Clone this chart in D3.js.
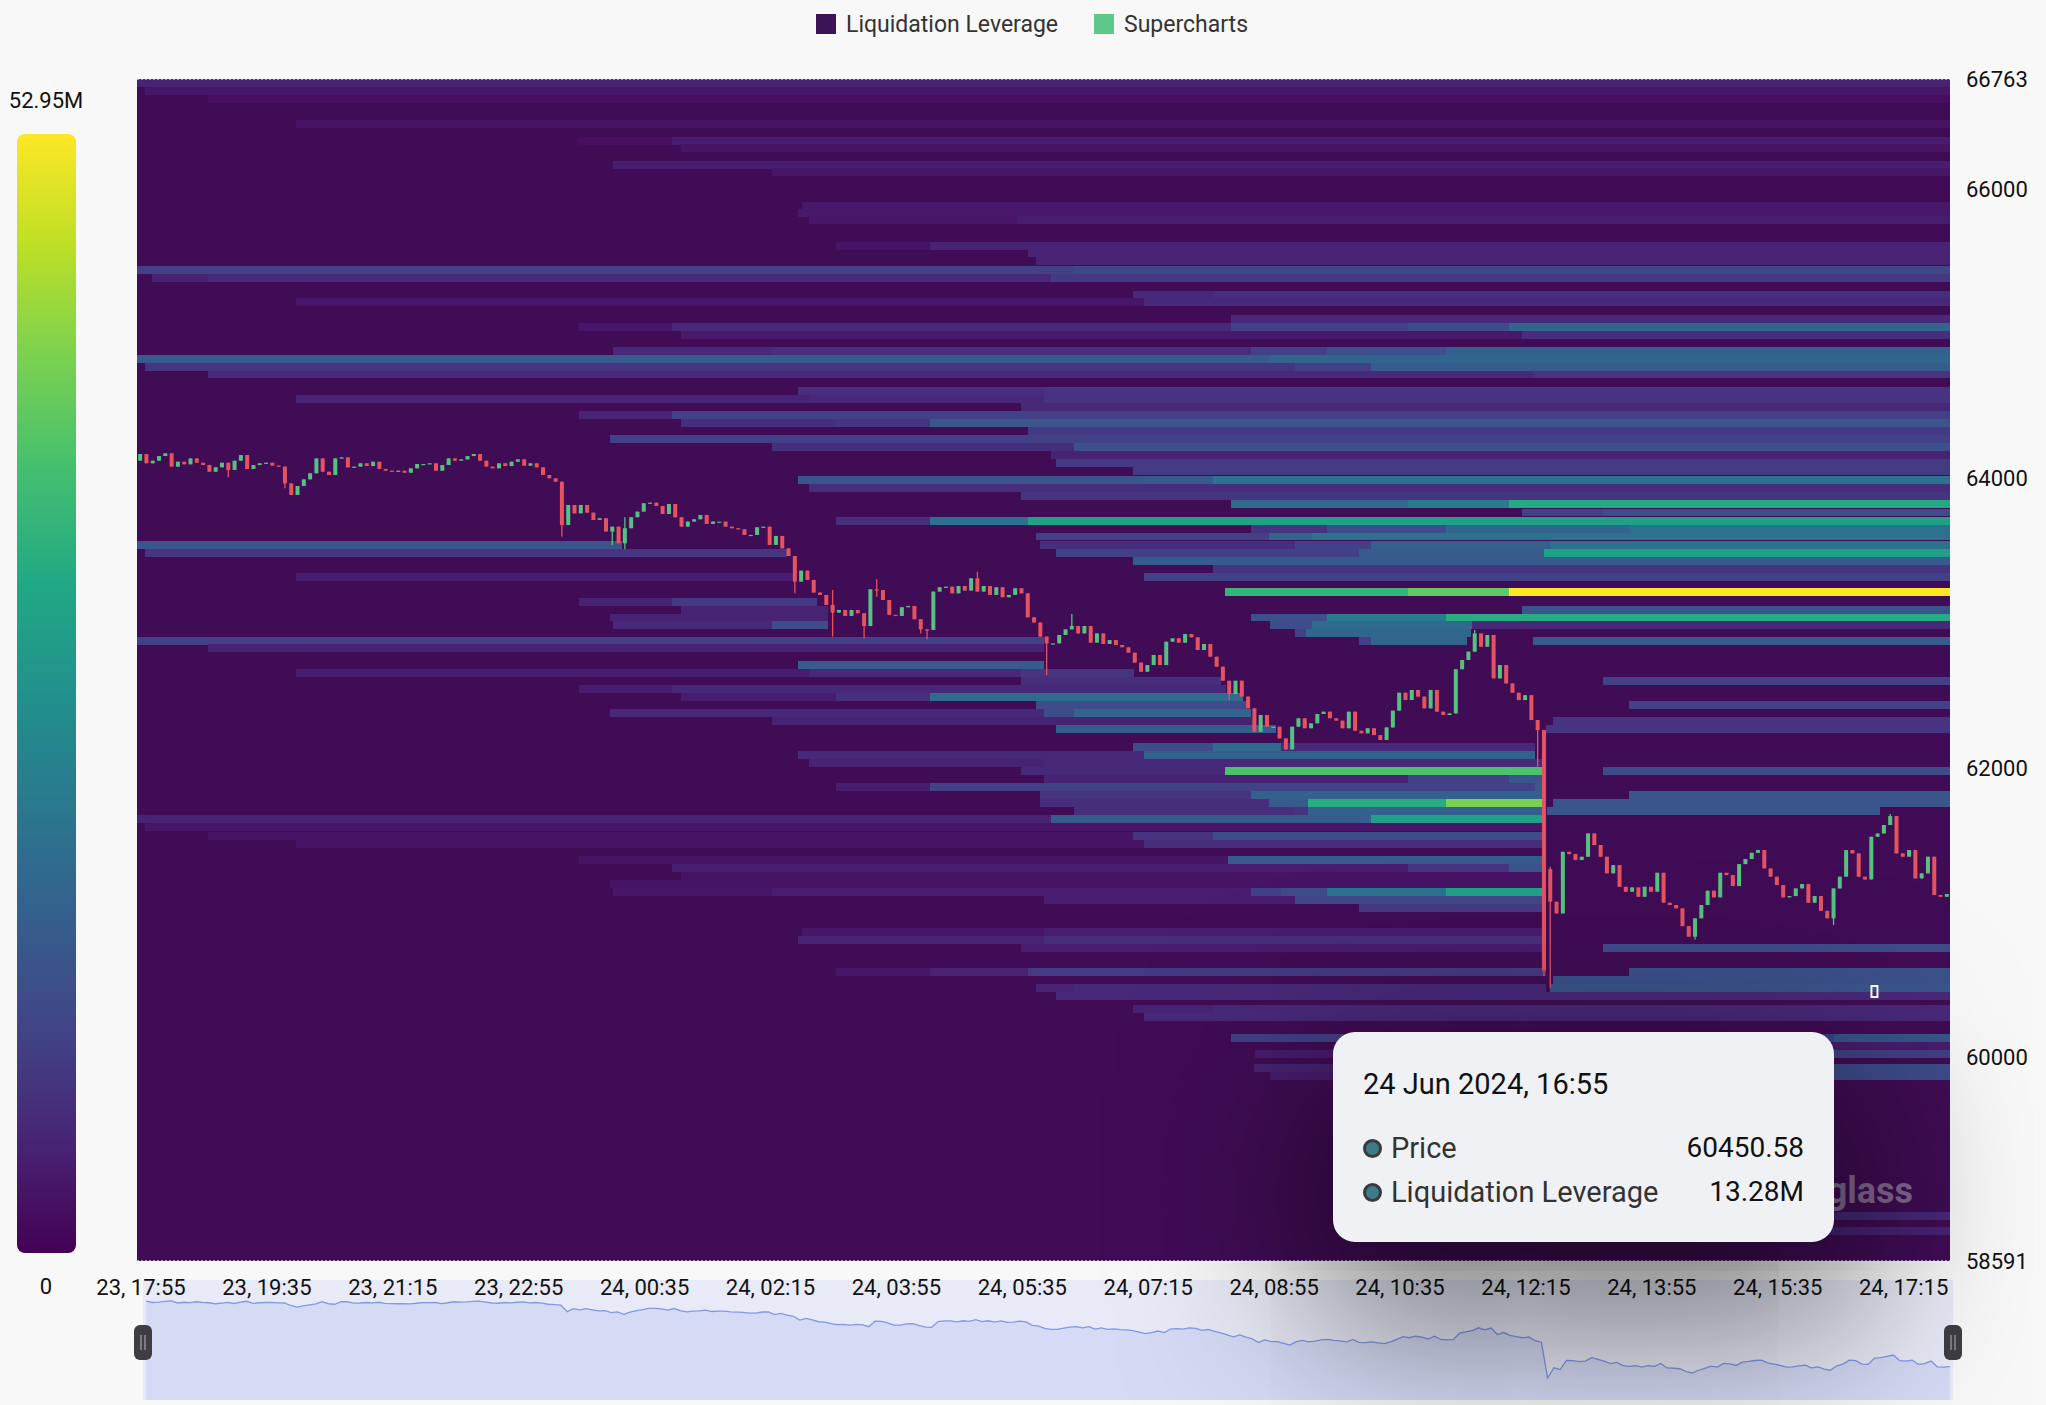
<!DOCTYPE html>
<html>
<head>
<meta charset="utf-8">
<script src="https://cdn.jsdelivr.net/npm/d3@7"></script>
<style>
  body { margin: 0; background: #f8f8f8; font-family: Roboto, "Noto Sans", sans-serif; }
  #wrap { position: relative; width: 2046px; height: 1405px; overflow: hidden; }
  #tip {
    position: absolute; background: #f0f1f5; border-radius: 22px;
    box-shadow: 0 60px 170px 30px rgba(0, 0, 0, 0.5);
    color: #111;
  }
  #tip .row { position: absolute; left: 30px; right: 30px; height: 34px; line-height: 34px; }
  #tip .dot { position: absolute; left: 0; top: 8px; width: 13px; height: 13px; border-radius: 50%;
    background: #3f7a8c; border: 3px solid #3a3a3a; }
  #tip .lab { position: absolute; left: 28px; color: #333; font-size: 29px; }
  #tip .val { position: absolute; right: 0; font-size: 28px; color: #111; }
</style>
</head>
<body>
<div id="wrap">
  <svg id="chart" width="2046" height="1405"></svg>
  <div id="tip"></div>
</div>
<script>
// time range: 23 Jun 2024 17:55 -> 24 Jun 2024 17:55, 5 minute candles
var startTime = new Date(2024, 5, 23, 17, 55);
var colorMax = 52.95; // M

// candle closes, one per 5 minutes (first open below)
var firstOpen = 64124;
var closes = [
  64170, 64106, 64124, 64156, 64175, 64083, 64117, 64099, 64140, 64110,
  64094, 64048, 64078, 64110, 64060, 64124, 64163, 64067, 64094, 64106,
  64110, 64090, 64083, 63967, 63887, 63949, 63995, 64037, 64140, 64048,
  64025, 64140, 64147, 64078, 64083, 64106, 64087, 64117, 64067, 64055,
  64048, 64055, 64041, 64071, 64101, 64101, 64106, 64055, 64094, 64140,
  64124, 64133, 64156, 64170, 64124, 64083, 64071, 64106, 64087, 64117,
  64133, 64090, 64106, 64078, 64025, 64002, 63979, 63679, 63818, 63760,
  63818, 63765,
  63714, 63726, 63634, 63668, 63553, 63657, 63733, 63772, 63830, 63834,
  63811, 63756, 63825, 63733, 63668, 63703, 63719, 63749, 63687, 63703,
  63703, 63668, 63657, 63650, 63611, 63611, 63664, 63668, 63542, 63604,
  63518, 63465, 63288, 63364, 63300, 63212, 63196, 63127, 63074, 63092,
  63051, 63092, 63069, 62981, 63235, 63230, 63161, 63058, 63051, 63111,
  63120, 63028, 62958, 62954, 63219, 63249, 63253, 63207, 63258, 63226,
  63311, 63219, 63258, 63196, 63249, 63180, 63196, 63242, 63207, 63041,
  63005, 62908,
  62861, 62861, 62919, 62958, 62981, 62930, 62981, 62866, 62930, 62857,
  62884, 62850, 62834, 62797, 62728, 62665, 62711, 62781, 62711, 62873,
  62896, 62866, 62926, 62903, 62815, 62857, 62769, 62700, 62603, 62511,
  62603, 62493, 62412, 62250, 62366, 62285, 62285, 62204, 62128, 62285,
  62343, 62274, 62308, 62373, 62389, 62343, 62327, 62274, 62389, 62257,
  62239, 62274, 62227, 62193, 62280, 62396, 62520, 62470, 62539, 62493,
  62412, 62539, 62389, 62366, 62377, 62682, 62746, 62804, 62930, 62838,
  62919, 62619,
  62711, 62584, 62520, 62469, 62503, 62331, 62262, 60600, 61075, 60994,
  61420, 61404, 61363, 61386, 61547, 61467, 61386, 61271, 61328, 61178,
  61144, 61174, 61109, 61178, 61144, 61275, 61068, 61052, 61029, 60906,
  60833, 60960, 61052, 61151, 61105, 61275, 61259, 61183, 61335, 61370,
  61413, 61432, 61305, 61248, 61190, 61105, 61114, 61167, 61197, 61068,
  61114, 61012, 60960, 61167, 61248, 61432, 61409, 61248, 61229, 61524,
  61547, 61605, 61667, 61409, 61386, 61432, 61236, 61271, 61386, 61121,
  61109, 61128
];
// [candle index, high, low] where the wick sticks out of the body
var candleWicks = [
  [14, null, 64009], [23, null, 63933], [67, null, 63599], [75, null, 63542],
  [77, 63733, 63512], [104, null, 63207], [110, 63230, 62908], [115, null, 62896],
  [117, 63304, 63184], [124, null, 62930], [125, null, 62889], [133, 63357, null],
  [144, null, 62642], [148, 63064, null], [173, null, 62470], [177, null, 62250],
  [182, null, 62128], [212, 62953, null], [222, null, 62010], [223, null, 60560],
  [224, 61316, 60480], [226, null, 61030], [247, null, 60814], [269, null, 60914],
  [278, 61681, null]
];
// [candle index, open] where the open gaps from the previous close
var openFix = [[224, 61300]];

// liquidation levels: [price, [[hours from start, value in M], ...]], value 0 = cleared
var liqBands = [
  [66735, [[0, 5]]],
  [66680, [[0.1, 3]]],
  [66625, [[0.94, 2]]],
  [66450, [[2.1, 2.5]]],
  [66337, [[5.85, 2], [7.08, 4]]],
  [66285, [[7.2, 2.5]]],
  [66170, [[6.3, 4]]],
  [66120, [[8.4, 3]]],
  [65885, [[8.8, 3.5]]],
  [65835, [[8.75, 3.5]]],
  [65785, [[8.9, 3], [11.65, 4]]],
  [65610, [[9.25, 2.5], [10.5, 5]]],
  [65558, [[11.8, 5]]],
  [65503, [[11.9, 5]]],
  [65445, [[0, 10], [12.4, 11]]],
  [65390, [[0.2, 5], [0.94, 6], [12.1, 9]]],
  [65272, [[13.18, 6], [14.25, 7]]],
  [65218, [[2.1, 3], [13.33, 6]]],
  [65105, [[14.48, 6]]],
  [65050, [[5.85, 3], [7.08, 6], [14.48, 10], [16.83, 12], [18.16, 17]]],
  [64995, [[7.2, 3.5], [18.33, 7]]],
  [64882, [[6.3, 6], [8.4, 7], [14.75, 10], [15.75, 13], [17.33, 16]]],
  [64827, [[0, 15], [14.98, 17]]],
  [64772, [[0.1, 8], [15.33, 10], [16.33, 15]]],
  [64720, [[0.94, 6], [18.48, 8]]],
  [64603, [[8.75, 7], [12, 8]]],
  [64550, [[2.1, 5], [8.9, 6], [12, 8]]],
  [64495, [[11.7, 6]]],
  [64438, [[5.85, 5], [7.08, 10]]],
  [64385, [[7.2, 7], [9.25, 8], [10.5, 14]]],
  [64330, [[11.8, 9]]],
  [64272, [[6.26, 10]]],
  [64218, [[8.4, 7], [12.41, 13]]],
  [64163, [[12.1, 5]]],
  [64108, [[12.17, 9]]],
  [64050, [[13.18, 9]]],
  [63990, [[8.75, 14], [13.33, 15], [14.25, 20]]],
  [63937, [[8.9, 7]]],
  [63882, [[11.7, 8]]],
  [63822, [[14.48, 18], [16.83, 22], [18.16, 32]]],
  [63766, [[18.33, 10], [19.4, 12]]],
  [63709, [[9.25, 7], [10.5, 20], [11.8, 30]]],
  [63655, [[14.75, 8], [15.75, 12], [17.33, 17], [19.75, 20]]],
  [63600, [[11.9, 10], [14.98, 17], [15.55, 20]]],
  [63543, [[0, 14], [6.42, 0], [11.95, 7], [15.33, 10], [16.33, 16], [18.7, 20]]],
  [63488, [[0.1, 8], [8.6, 0], [12.17, 10], [16.17, 15], [18.63, 30]]],
  [63432, [[13.18, 15]]],
  [63377, [[14.25, 8]]],
  [63322, [[2.1, 4], [8.68, 0], [13.33, 10]]],
  [63215, [[14.4, 35], [16.83, 40], [18.16, 53]]],
  [63145, [[5.85, 5], [7.08, 9], [9.0, 0]]],
  [63090, [[7.2, 5], [9.15, 0], [18.33, 14]]],
  [63040, [[6.26, 5], [9.15, 0], [14.75, 13], [15.75, 22], [17.33, 33]]],
  [62985, [[6.3, 6], [8.4, 12], [9.15, 0], [15.0, 12], [15.55, 18], [17.67, 6]]],
  [62930, [[15.33, 10], [15.48, 17], [17.66, 0]]],
  [62880, [[0, 10], [12.0, 0], [16.17, 10], [16.33, 17], [17.6, 0], [18.48, 15]]],
  [62828, [[0.94, 5], [12.0, 0]]],
  [62710, [[8.75, 15], [12.0, 0]]],
  [62655, [[2.1, 4], [8.9, 6], [11.7, 8], [13.2, 0]]],
  [62600, [[11.7, 7], [14.35, 0], [19.4, 10]]],
  [62545, [[5.85, 4], [7.08, 6], [14.42, 0]]],
  [62490, [[7.2, 4], [9.25, 7], [10.5, 18], [14.64, 0]]],
  [62435, [[11.9, 12], [14.7, 0], [19.75, 10]]],
  [62380, [[6.26, 6], [12.0, 12], [12.4, 17], [14.75, 0]]],
  [62325, [[8.4, 5], [14.8, 0], [18.75, 8]]],
  [62270, [[12.17, 15], [15.08, 0], [18.65, 8]]],
  [62145, [[13.18, 12], [14.25, 18], [15.15, 6], [18.5, 0]]],
  [62090, [[8.75, 6], [13.33, 16], [18.5, 0]]],
  [62035, [[8.9, 5], [12, 6], [18.6, 0]]],
  [61980, [[11.7, 6], [14.4, 38], [18.6, 0], [19.4, 12]]],
  [61925, [[12, 5], [16.83, 10], [18.16, 14], [18.6, 0]]],
  [61865, [[9.25, 4], [10.5, 10], [18.5, 15], [18.6, 0]]],
  [61810, [[11.95, 8], [14.75, 16], [18.6, 0], [19.75, 14]]],
  [61755, [[11.95, 7], [14.98, 15], [15.5, 33], [17.33, 42], [18.6, 0], [18.75, 14]]],
  [61700, [[12.4, 7], [15.33, 8], [15.5, 16], [18.6, 0], [18.66, 14], [23.07, 0]]],
  [61645, [[0, 5], [12.1, 15], [16.2, 16], [16.33, 30], [18.6, 0]]],
  [61590, [[0.1, 3], [18.6, 0]]],
  [61532, [[0.94, 2.5], [13.18, 8], [14.24, 12], [18.6, 0]]],
  [61477, [[2.1, 2.5], [13.33, 7], [18.6, 0]]],
  [61365, [[5.85, 2.5], [14.44, 15], [18.6, 0]]],
  [61305, [[7.08, 4], [16.83, 8], [18.16, 14], [18.6, 0]]],
  [61250, [[7.2, 2.5], [18.6, 0]]],
  [61195, [[6.26, 2.5], [18.6, 0]]],
  [61140, [[6.3, 3], [8.4, 4], [14.75, 10], [15.15, 12], [15.75, 20], [17.33, 30], [18.6, 0]]],
  [61085, [[12, 4], [15.33, 11], [18.6, 0]]],
  [61030, [[16.17, 9], [18.6, 0]]],
  [60865, [[8.8, 3], [12, 4], [18.6, 0]]],
  [60810, [[8.75, 5], [12, 7], [18.6, 0]]],
  [60755, [[11.7, 4], [18.6, 0], [19.4, 12]]],
  [60590, [[9.25, 3], [10.5, 5], [11.8, 9], [18.65, 0], [19.75, 13]]],
  [60535, [[18.75, 13]]],
  [60480, [[11.9, 5], [12.4, 6], [18.65, 0], [18.7, 14]]],
  [60425, [[12.17, 6]]],
  [60330, [[13.18, 5], [14.25, 6]]],
  [60275, [[13.33, 6]]],
  [60135, [[14.48, 10], [22.46, 14]]],
  [60080, [[16, 4]]],
  [60025, [[14.8, 4], [19.5, 10]]],
  [59925, [[14.78, 5], [19.5, 12]]],
  [59870, [[15.0, 4], [19.5, 12]]],
  [58900, [[19, 6]]],
  [58800, [[18.6, 5]]]
];
var binSize = 55;

var priceTicks = [66763, 66000, 64000, 62000, 60000, 58591];
var timeTickStepMin = 100;
var legendItems = [
  { name: "Liquidation Leverage", color: "#3b1458" },
  { name: "Supercharts", color: "#5cc98a" }
];
var tooltipPoint = { time: new Date(2024, 5, 24, 16, 55), price: 60450.58, value: 13.28 };

// ---------- layout ----------
var plot = { left: 137, right: 1950, top: 79, bottom: 1261 };
var endTime = new Date(startTime.getTime() + 24 * 3600e3);
var hrs = function (h) { return new Date(startTime.getTime() + h * 3600e3); };

var xScale = d3.scaleTime().domain([startTime, endTime]).range([plot.left, plot.right]);
var yScale = d3.scaleLinear().domain([58591, 66763]).range([plot.bottom, plot.top]);
var color = d3.scaleSequential(d3.interpolateViridis).domain([0, colorMax]);

var svg = d3.select("#chart");
var defs = svg.append("defs");
defs.append("clipPath").attr("id", "clip")
  .append("rect")
  .attr("x", plot.left).attr("y", plot.top)
  .attr("width", plot.right - plot.left).attr("height", plot.bottom - plot.top);

// legend
var legend = svg.append("g").attr("font-size", 23).attr("fill", "#333");
var lx = [816, 1094];
legendItems.forEach(function (d, i) {
  legend.append("rect").attr("x", lx[i]).attr("y", 14).attr("width", 20).attr("height", 20).attr("fill", d.color);
  legend.append("text").attr("x", lx[i] + 30).attr("y", 24).attr("dy", "0.35em").text(d.name);
});

// heatmap
var heat = svg.append("g").attr("clip-path", "url(#clip)");
heat.append("rect")
  .attr("x", plot.left).attr("y", plot.top)
  .attr("width", plot.right - plot.left).attr("height", plot.bottom - plot.top)
  .attr("fill", "#400c55");

var cells = [];
liqBands.forEach(function (b) {
  var segs = b[1];
  segs.forEach(function (s, j) {
    if (s[1] <= 0) return;
    var t1 = j + 1 < segs.length ? segs[j + 1][0] : 24;
    cells.push({ price: b[0], t0: s[0], t1: t1, v: s[1] });
  });
});

heat.selectAll("rect.cell")
  .data(cells)
  .enter()
  .append("rect")
  .attr("class", "cell")
  .attr("x", function (d) { return xScale(hrs(d.t0)); })
  .attr("width", function (d) { return xScale(hrs(d.t1)) - xScale(hrs(d.t0)); })
  .attr("y", function (d) { return yScale(d.price + binSize / 2); })
  .attr("height", function (d) { return yScale(d.price - binSize / 2) - yScale(d.price + binSize / 2); })
  .attr("fill", function (d) { return color(d.v); })
  .attr("shape-rendering", "crispEdges");

// candles
var wickMap = {};
candleWicks.forEach(function (w) { wickMap[w[0]] = w; });
var openMap = {};
openFix.forEach(function (o) { openMap[o[0]] = o[1]; });

var candles = closes.map(function (c, i) {
  var o = openMap[i] !== undefined ? openMap[i] : (i === 0 ? firstOpen : closes[i - 1]);
  var hi = Math.max(o, c), lo = Math.min(o, c);
  var w = wickMap[i];
  if (w && w[1] !== null) hi = Math.max(hi, w[1]);
  if (w && w[2] !== null) lo = Math.min(lo, w[2]);
  return { date: new Date(startTime.getTime() + (i * 5 + 2.5) * 60e3), open: o, close: c, high: hi, low: lo };
});

var candleW = 4;
var cg = heat.append("g");
var cSel = cg.selectAll("g.candle").data(candles).enter().append("g").attr("class", "candle");
cSel.append("line")
  .attr("x1", function (d) { return xScale(d.date); })
  .attr("x2", function (d) { return xScale(d.date); })
  .attr("y1", function (d) { return yScale(d.high); })
  .attr("y2", function (d) { return yScale(d.low); })
  .attr("stroke", function (d) { return d.close >= d.open ? "#55c27f" : "#e5535f"; })
  .attr("stroke-width", 1.3);
cSel.append("rect")
  .attr("x", function (d) { return xScale(d.date) - candleW / 2; })
  .attr("width", candleW)
  .attr("y", function (d) { return yScale(Math.max(d.open, d.close)); })
  .attr("height", function (d) { return Math.max(1.2, Math.abs(yScale(d.open) - yScale(d.close))); })
  .attr("fill", function (d) { return d.close >= d.open ? "#55c27f" : "#e5535f"; });

// hovered cell marker
heat.append("rect")
  .attr("x", xScale(tooltipPoint.time) - 3)
  .attr("y", yScale(tooltipPoint.price) - 6)
  .attr("width", 6).attr("height", 11)
  .attr("fill", "none").attr("stroke", "#fff").attr("stroke-width", 2);

// watermark, only its tail shows beside the tooltip
svg.append("text")
  .attr("x", 1913).attr("y", 1190).attr("dy", "0.35em")
  .attr("text-anchor", "end")
  .attr("font-size", 36).attr("font-weight", 700)
  .attr("fill", "rgba(205,200,215,0.5)")
  .text("glass");

// top / bottom edges
svg.append("line").attr("x1", plot.left).attr("x2", plot.right).attr("y1", plot.top + 0.5).attr("y2", plot.top + 0.5)
  .attr("stroke", "#a99cc6").attr("stroke-dasharray", "2,2");
svg.append("line").attr("x1", plot.left).attr("x2", plot.right).attr("y1", plot.bottom - 0.5).attr("y2", plot.bottom - 0.5)
  .attr("stroke", "#a99cc6").attr("stroke-dasharray", "2,2");

// price axis
svg.append("g").selectAll("text")
  .data(priceTicks)
  .enter()
  .append("text")
  .attr("x", 1966)
  .attr("y", function (d) { return yScale(d); })
  .attr("dy", "0.35em")
  .attr("font-size", 22)
  .attr("fill", "#111")
  .text(function (d) { return d; });

// navigator
var nav = { left: 143, right: 1953, top: 1280, bottom: 1400 };
var nx = d3.scaleTime().domain([startTime, endTime]).range([nav.left, nav.right]);
var ny = d3.scaleLinear().domain(d3.extent(closes)).range([1378, 1301]);
svg.append("rect")
  .attr("x", nav.left).attr("y", nav.top)
  .attr("width", nav.right - nav.left).attr("height", nav.bottom - nav.top)
  .attr("fill", "#e8eaf7");
var area = d3.area()
  .x(function (d) { return nx(d.date); })
  .y0(nav.bottom)
  .y1(function (d) { return ny(d.close); });
var navLine = d3.line()
  .x(function (d) { return nx(d.date); })
  .y(function (d) { return ny(d.close); });
svg.append("path").datum(candles).attr("d", area).attr("fill", "#d5dbf5");
svg.append("path").datum(candles).attr("d", navLine).attr("fill", "none").attr("stroke", "#8099e6").attr("stroke-width", 1.3);
[nav.left, nav.right].forEach(function (hx) {
  svg.append("rect").attr("x", hx - 9).attr("y", 1325).attr("width", 18).attr("height", 35)
    .attr("rx", 6).attr("fill", "#3d3d42");
  svg.append("line").attr("x1", hx - 2).attr("x2", hx - 2).attr("y1", 1335).attr("y2", 1350).attr("stroke", "#bbb");
  svg.append("line").attr("x1", hx + 2).attr("x2", hx + 2).attr("y1", 1335).attr("y2", 1350).attr("stroke", "#bbb");
});

// time axis
var timeTicks = d3.range(0, 15).map(function (k) {
  return new Date(startTime.getTime() + k * timeTickStepMin * 60e3);
});
var fmt = d3.timeFormat("%d, %H:%M");
svg.append("g").selectAll("text")
  .data(timeTicks)
  .enter()
  .append("text")
  .attr("x", function (d) { return xScale(d) + 4; })
  .attr("y", 1287)
  .attr("dy", "0.35em")
  .attr("text-anchor", "middle")
  .attr("font-size", 22)
  .attr("fill", "#111")
  .text(function (d) { return fmt(d); });

// color bar
var grad = defs.append("linearGradient").attr("id", "cbar").attr("x1", 0).attr("x2", 0).attr("y1", 1).attr("y2", 0);
d3.range(0, 1.0001, 0.1).forEach(function (s) {
  grad.append("stop").attr("offset", s).attr("stop-color", d3.interpolateViridis(s));
});
svg.append("rect").attr("x", 17).attr("y", 134).attr("width", 59).attr("height", 1119)
  .attr("rx", 8).attr("fill", "url(#cbar)");
svg.append("text").attr("x", 46).attr("y", 100).attr("dy", "0.35em").attr("text-anchor", "middle")
  .attr("font-size", 22).attr("fill", "#111").text(colorMax + "M");
svg.append("text").attr("x", 46).attr("y", 1286).attr("dy", "0.35em").attr("text-anchor", "middle")
  .attr("font-size", 22).attr("fill", "#111").text("0");

// tooltip
var tip = d3.select("#tip")
  .style("left", "1333px").style("top", "1032px")
  .style("width", "501px").style("height", "210px");
tip.append("div").attr("class", "row").style("top", "35px")
  .style("font-size", "29px").style("color", "#111")
  .text(d3.timeFormat("%d %b %Y, %H:%M")(tooltipPoint.time));
var rows = [
  ["Price", tooltipPoint.price.toFixed(2)],
  ["Liquidation Leverage", tooltipPoint.value.toFixed(2) + "M"]
];
rows.forEach(function (r, i) {
  var row = tip.append("div").attr("class", "row").style("top", (99 + i * 44) + "px");
  row.append("span").attr("class", "dot");
  row.append("span").attr("class", "lab").text(r[0]);
  row.append("span").attr("class", "val").text(r[1]);
});
</script>
</body>
</html>
